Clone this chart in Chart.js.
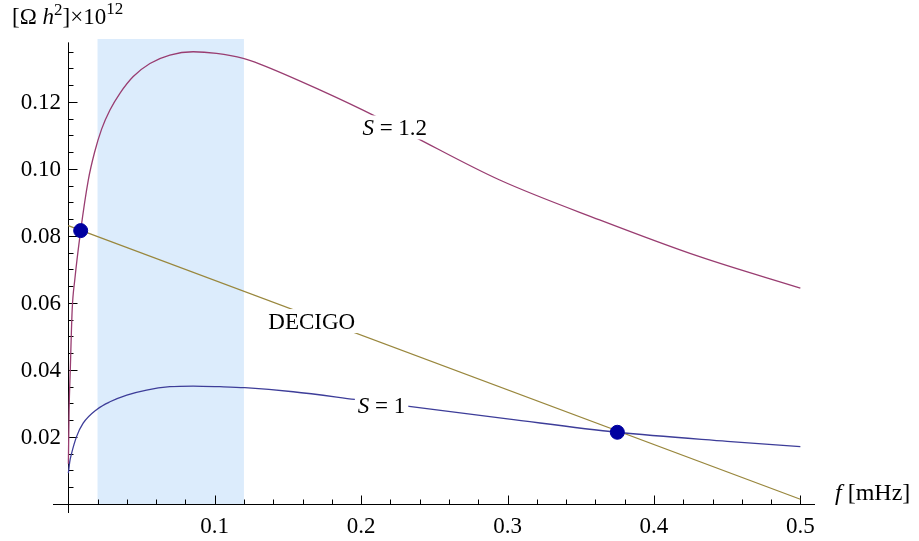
<!DOCTYPE html>
<html>
<head>
<meta charset="utf-8">
<script src="https://cdn.jsdelivr.net/npm/chart.js"></script>
<style>
  html, body { margin: 0; padding: 0; background: #fff; }
  #wrap { width: 919px; height: 541px; }
</style>
</head>
<body>
<div id="wrap"><canvas id="chart" width="919" height="541"></canvas></div>
<script>
// values (f in mHz, Omega h^2 x 10^12)
const freqS1 = [0.0001, 0.001, 0.0023, 0.0057, 0.0102, 0.0198, 0.0285, 0.040, 0.0535, 0.0694, 0.0853, 0.1036, 0.1206, 0.1536, 0.1957, 0.2328, 0.300, 0.375, 0.450, 0.500];
const omegaS1 = [0.0092, 0.0125, 0.0151, 0.0201, 0.0241, 0.0283, 0.0305, 0.0325, 0.0340, 0.0350, 0.0352, 0.0350, 0.0347, 0.0335, 0.0312, 0.0291, 0.0254, 0.0214, 0.0187, 0.0171];

const freqS12 = [0.0001, 0.0006, 0.0014, 0.0027, 0.0045, 0.0085, 0.0137, 0.018, 0.0228, 0.0285, 0.0353, 0.0444, 0.0558, 0.0694, 0.0853, 0.1013, 0.1195, 0.1309, 0.1718, 0.2113, 0.2378, 0.2947, 0.3629, 0.4312, 0.500];
const omegaS12 = [0.012, 0.028, 0.040, 0.058, 0.067, 0.0816, 0.0967, 0.1050, 0.1119, 0.1176, 0.1226, 0.1276, 0.1315, 0.1340, 0.1350, 0.1345, 0.1330, 0.1313, 0.1236, 0.1154, 0.1093, 0.0967, 0.0848, 0.0738, 0.0644];

const freqDecigo = [0, 0.5];
const omegaDecigo = [0.0831, 0.0014];

const crossFreq = [0.0085, 0.375];
const crossOmega = [0.0816, 0.0214];

const bandRange = [0.02, 0.12];

const xTickValues = [0.1, 0.2, 0.3, 0.4, 0.5];
const xTickLabels = ['0.1', '0.2', '0.3', '0.4', '0.5'];
const yTickValues = [0.02, 0.04, 0.06, 0.08, 0.10, 0.12];
const yTickLabels = ['0.02', '0.04', '0.06', '0.08', '0.10', '0.12'];

const toPoints = (xs, ys) => xs.map((x, i) => ({ x: x, y: ys[i] }));

const SERIF = '"Liberation Serif", "DejaVu Serif", serif';

// draws text made of several runs (italic / superscript) from x on a baseline
function richWidth(ctx, parts) {
  let w = 0;
  parts.forEach(p => {
    ctx.font = (p.italic ? 'italic ' : '') + (p.size || 23) + 'px ' + SERIF;
    w += ctx.measureText(p.t).width;
  });
  return w;
}
function drawRich(ctx, parts, x, baseline) {
  ctx.textAlign = 'left';
  ctx.textBaseline = 'alphabetic';
  parts.forEach(p => {
    ctx.font = (p.italic ? 'italic ' : '') + (p.size || 23) + 'px ' + SERIF;
    ctx.fillText(p.t, x, baseline + (p.dy || 0));
    x += ctx.measureText(p.t).width;
  });
}

const mmaAxes = {
  id: 'mmaAxes',
  beforeDatasetsDraw(chart) {
    const ctx = chart.ctx;
    const xs = chart.scales.x, ys = chart.scales.y;
    const area = chart.chartArea;
    ctx.save();
    // shaded band
    const bx0 = xs.getPixelForValue(bandRange[0]);
    const bx1 = xs.getPixelForValue(bandRange[1]);
    const by0 = ys.getPixelForValue(0);
    ctx.fillStyle = 'rgb(220,236,252)';
    ctx.fillRect(bx0, area.top, bx1 - bx0, by0 - area.top);

    // axes
    const ox = Math.round(xs.getPixelForValue(0)) + 0.5;
    const oy = Math.round(ys.getPixelForValue(0)) + 0.5;
    ctx.strokeStyle = '#000';
    ctx.lineWidth = 1;
    ctx.beginPath();
    ctx.moveTo(area.left, oy); ctx.lineTo(area.right, oy);
    ctx.moveTo(ox, area.bottom); ctx.lineTo(ox, ys.getPixelForValue(0.1378));
    ctx.stroke();

    // x ticks (pointing up)
    ctx.beginPath();
    for (let i = 1; i <= 25; i++) {
      const v = i * 0.02;
      const px = Math.round(xs.getPixelForValue(v)) + 0.5;
      const major = i % 5 === 0;
      ctx.moveTo(px, oy); ctx.lineTo(px, oy - (major ? 9 : 5));
    }
    // y ticks (pointing right)
    for (let i = 1; i <= 27; i++) {
      const v = i * 0.005;
      const py = Math.round(ys.getPixelForValue(v)) + 0.5;
      const major = i % 4 === 0;
      ctx.moveTo(ox, py); ctx.lineTo(ox + (major ? 9 : 5), py);
    }
    ctx.stroke();

    // tick labels
    ctx.fillStyle = '#000';
    ctx.font = '23px ' + SERIF;
    ctx.textBaseline = 'alphabetic';
    ctx.textAlign = 'center';
    xTickValues.forEach((v, i) => {
      ctx.fillText(xTickLabels[i], xs.getPixelForValue(v), 533);
    });
    ctx.textAlign = 'right';
    yTickValues.forEach((v, i) => {
      ctx.fillText(yTickLabels[i], 61, ys.getPixelForValue(v) + 7.5);
    });

    // axis labels
    drawRich(ctx, [{ t: 'f', italic: true, size: 24 }, { t: ' [mHz]', size: 24 }], 835, 500);
    drawRich(ctx, [
      { t: '[\u03A9 ' }, { t: 'h', italic: true }, { t: '2', size: 17, dy: -9 },
      { t: ']\u00D710' }, { t: '12', size: 17, dy: -10 }
    ], 12, 24);
    ctx.restore();
  },
  afterDatasetsDraw(chart) {
    const ctx = chart.ctx;
    const xs = chart.scales.x, ys = chart.scales.y;
    const labels = [
      { parts: [{ t: 'S', italic: true }, { t: ' = 1.2' }], f: 0.2230, o: 0.1124 },
      { parts: [{ t: 'DECIGO' }], f: 0.1663, o: 0.0546 },
      { parts: [{ t: 'S', italic: true }, { t: ' = 1' }], f: 0.2140, o: 0.0294 }
    ];
    ctx.save();
    labels.forEach(l => {
      const cx = xs.getPixelForValue(l.f);
      const cy = ys.getPixelForValue(l.o);
      const w = richWidth(ctx, l.parts);
      ctx.fillStyle = '#fff';
      ctx.fillRect(cx - w / 2 - 3, cy - 12, w + 6, 24);
      ctx.fillStyle = '#000';
      drawRich(ctx, l.parts, cx - w / 2, cy + 7.5);
    });
    ctx.restore();
  }
};

new Chart(document.getElementById('chart'), {
  type: 'line',
  data: {
    datasets: [
      {
        label: 'S = 1',
        data: toPoints(freqS1, omegaS1),
        borderColor: 'rgb(61,61,153)',
        borderWidth: 1.3,
        pointRadius: 0,
        cubicInterpolationMode: 'monotone',
        order: 3
      },
      {
        label: 'S = 1.2',
        data: toPoints(freqS12, omegaS12),
        borderColor: 'rgb(153,61,113)',
        borderWidth: 1.3,
        pointRadius: 0,
        cubicInterpolationMode: 'monotone',
        order: 2
      },
      {
        label: 'DECIGO',
        data: toPoints(freqDecigo, omegaDecigo),
        borderColor: 'rgb(153,135,61)',
        borderWidth: 1.3,
        pointRadius: 0,
        order: 4
      },
      {
        type: 'scatter',
        label: 'crossings',
        data: toPoints(crossFreq, crossOmega),
        backgroundColor: 'rgb(0,0,160)',
        borderColor: 'rgb(0,0,160)',
        pointRadius: 7,
        pointHoverRadius: 7,
        order: 1
      }
    ]
  },
  options: {
    responsive: false,
    animation: false,
    events: [],
    layout: { padding: { left: 53, right: 104, top: 39, bottom: 28 } },
    plugins: { legend: { display: false }, tooltip: { enabled: false } },
    scales: {
      x: { type: 'linear', min: -0.0104, max: 0.51, display: false },
      y: { type: 'linear', min: -0.0027, max: 0.1388, display: false }
    }
  },
  plugins: [mmaAxes]
});
</script>
</body>
</html>
